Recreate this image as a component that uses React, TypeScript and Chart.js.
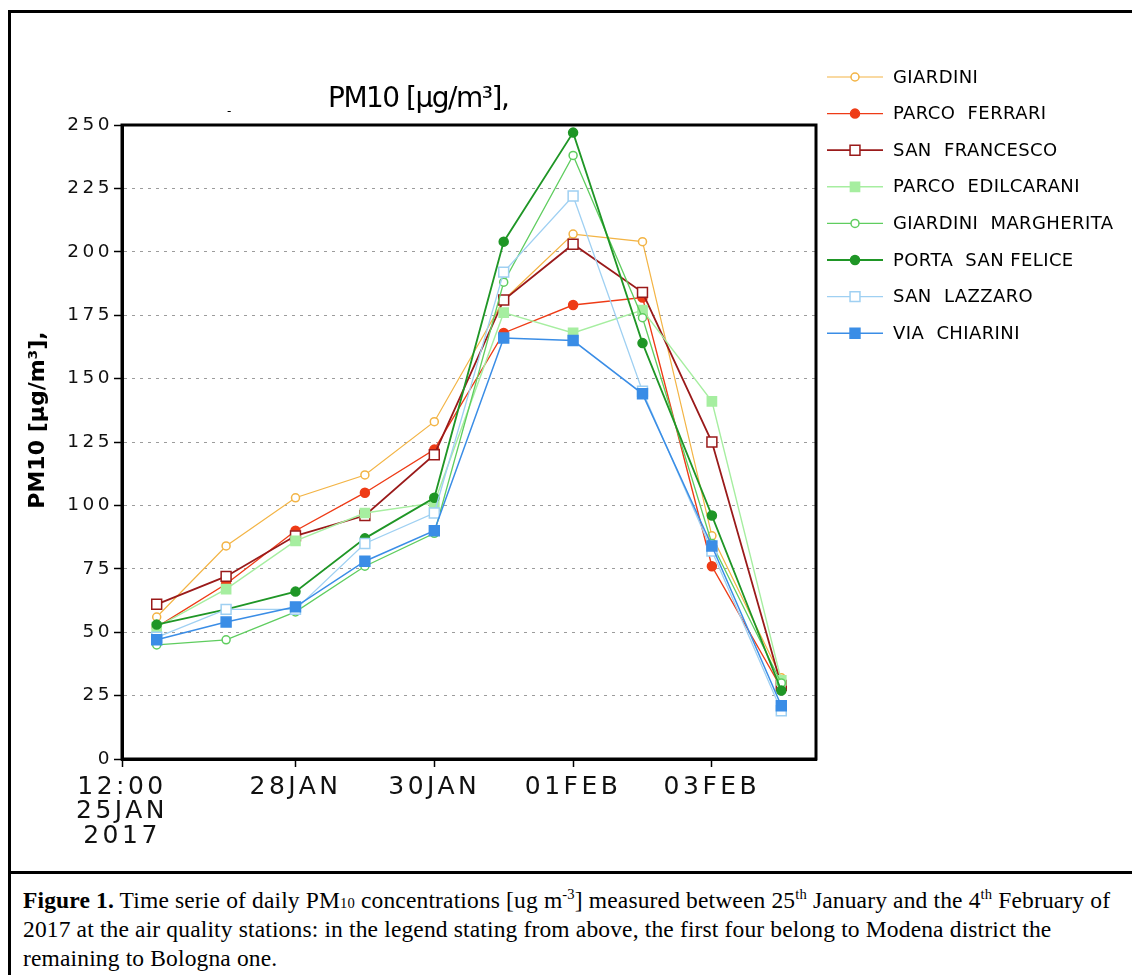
import React, { useEffect, useRef } from 'react';
import { Chart, registerables } from 'chart.js';

Chart.register(...registerables);

// ---- data ----
const dayIndex = [0, 1, 2, 3, 4, 5, 6, 7, 8, 9]; // 26JAN .. 04FEB
const xTickValues = [-0.5, 2, 4, 6, 8];
const xTickLabels: (string | string[])[] = [['12:00', '25JAN', '2017'], '28JAN', '30JAN', '01FEB', '03FEB'];
const yTickValues = [0, 25, 50, 75, 100, 125, 150, 175, 200, 225, 250];

const stationNames = [
  'GIARDINI',
  'PARCO FERRARI',
  'SAN FRANCESCO',
  'PARCO EDILCARANI',
  'GIARDINI MARGHERITA',
  'PORTA SAN FELICE',
  'SAN LAZZARO',
  'VIA CHIARINI',
];

const giardini = [56, 84, 103, 112, 133, 181, 207, 204, 88, 32];
const parcoFerrari = [52, 69, 90, 105, 122, 168, 179, 182, 76, 28];
const sanFrancesco = [61, 72, 88, 96, 120, 181, 203, 184, 125, 29];
const parcoEdilcarani = [52, 67, 86, 97, 101, 176, 168, 177, 141, 31];
const giardiniMargherita = [45, 47, 58, 76, 89, 188, 238, 174, 85, 30];
const portaSanFelice = [53, 59, 66, 87, 103, 204, 247, 164, 96, 27];
const sanLazzaro = [48, 59, 59, 85, 97, 192, 222, 145, 82, 19];
const viaChiarini = [47, 54, 60, 78, 90, 166, 165, 144, 84, 21];

const seriesValues = [
  giardini,
  parcoFerrari,
  sanFrancesco,
  parcoEdilcarani,
  giardiniMargherita,
  portaSanFelice,
  sanLazzaro,
  viaChiarini,
];

const TITLE = 'PM10 [\u03BCg/m\u00B3],';

// ---- styles ----
const seriesStyles = [
  { color: '#f3b445', style: 'circle', filled: false, r: 4, lw: 1.2 },
  { color: '#ee3b16', style: 'circle', filled: true, r: 4.5, lw: 1.4 },
  { color: '#9a1a1a', style: 'rect', filled: false, r: 7, lw: 1.8 },
  { color: '#a6eea0', style: 'rect', filled: true, r: 6.5, lw: 1.4 },
  { color: '#5fcd5f', style: 'circle', filled: false, r: 4, lw: 1.3 },
  { color: '#1f9626', style: 'circle', filled: true, r: 4.5, lw: 1.8 },
  { color: '#9fd0f2', style: 'rect', filled: false, r: 7, lw: 1.3 },
  { color: '#3a8de6', style: 'rect', filled: true, r: 7, lw: 1.5 },
];

function drawMarker(ctx: CanvasRenderingContext2D, style: string, x: number, y: number, r: number, color: string, filled: boolean) {
  ctx.save();
  ctx.lineWidth = 1.5;
  ctx.strokeStyle = color;
  ctx.fillStyle = filled ? color : '#fff';
  ctx.beginPath();
  if (style === 'circle') {
    ctx.arc(x, y, r, 0, Math.PI * 2);
  } else {
    const s = r * Math.SQRT1_2;
    ctx.rect(x - s, y - s, 2 * s, 2 * s);
  }
  ctx.fill();
  ctx.stroke();
  ctx.restore();
}

const decorPlugin = {
  id: 'decor',
  beforeDraw(chart: any) {
    (chart.ctx as any).letterSpacing = '3.5px';
  },
  afterDraw(chart: any) {
    const ctx: CanvasRenderingContext2D = chart.ctx;
    const a = chart.chartArea;
    ctx.save();
    (ctx as any).letterSpacing = '0px';
    // plot frame
    ctx.strokeStyle = '#000';
    ctx.lineWidth = 3;
    ctx.strokeRect(a.left, a.top, a.right - a.left, a.bottom - a.top);

    // title
    ctx.fillStyle = '#000';
    ctx.textAlign = 'left';
    ctx.textBaseline = 'alphabetic';
    ctx.font = '28px "DejaVu Sans"';
    (ctx as any).letterSpacing = '-1.5px';
    ctx.fillText(TITLE, a.left + 206, a.top - 18);
    (ctx as any).letterSpacing = '0px';
    ctx.font = '12px "DejaVu Sans"';
    ctx.fillText('-', a.left + 105, a.top - 10);

    // y axis title
    ctx.save();
    ctx.translate(27, (a.top + a.bottom) / 2 - 22);
    ctx.rotate(-Math.PI / 2);
    ctx.textAlign = 'center';
    ctx.textBaseline = 'middle';
    ctx.font = 'bold 22px "DejaVu Sans"';
    ctx.fillText(TITLE, 0, 0);
    ctx.restore();

    // legend
    const lx0 = a.right + 11;
    const lx1 = a.right + 67;
    const mx = a.right + 39;
    const tx = a.right + 77;
    ctx.font = '18px "DejaVu Sans"';
    (ctx as any).letterSpacing = '0.4px';
    ctx.textAlign = 'left';
    ctx.textBaseline = 'middle';
    chart.data.datasets.forEach((ds: any, i: number) => {
      const st = seriesStyles[i];
      const y = 64 + i * 36.6;
      ctx.strokeStyle = st.color;
      ctx.lineWidth = st.lw;
      ctx.beginPath();
      ctx.moveTo(lx0, y);
      ctx.lineTo(lx1, y);
      ctx.stroke();
      drawMarker(ctx, st.style, mx, y, st.r, st.color, st.filled);
      ctx.fillStyle = '#000';
      ctx.fillText(ds.label.replace(' ', '  '), tx, y + 1);
    });
    ctx.restore();
  },
};

export default function App() {
  const ref = useRef<HTMLCanvasElement>(null);

  useEffect(() => {
    const datasets = stationNames.map((name, i) => {
      const st = seriesStyles[i];
      return {
        label: name,
        data: dayIndex.map((d, k) => ({ x: d, y: seriesValues[i][k] })),
        borderColor: st.color,
        backgroundColor: st.color,
        borderWidth: st.lw,
        pointStyle: st.style,
        pointRadius: st.r,
        pointHoverRadius: st.r,
        pointBorderWidth: 1.5,
        pointBackgroundColor: st.filled ? st.color : '#ffffff',
        pointBorderColor: st.color,
        tension: 0,
        fill: false,
        order: stationNames.length - i,
      };
    });

    const chart = new Chart(ref.current as HTMLCanvasElement, {
      type: 'line',
      data: { datasets },
      options: {
        responsive: false,
        animation: false,
        events: [],
        layout: { padding: { left: 0, top: 112, right: 316, bottom: 0 } },
        plugins: {
          legend: { display: false },
          tooltip: { enabled: false },
          title: { display: false },
        },
        scales: {
          x: {
            type: 'linear',
            min: -0.5,
            max: 9.5,
            afterBuildTicks: (s: any) => {
              s.ticks = xTickValues.map((v) => ({ value: v }));
            },
            afterFit: (s: any) => {
              s.height = 112;
            },
            ticks: {
              autoSkip: false,
              maxRotation: 0,
              minRotation: 0,
              color: '#111',
              padding: 8,
              font: { family: 'DejaVu Sans', size: 25, lineHeight: 0.98 },
              callback: (v: any) => {
                const k = xTickValues.indexOf(Number(v));
                return k >= 0 ? xTickLabels[k] : '';
              },
            },
            grid: {
              drawOnChartArea: false,
              drawTicks: true,
              tickLength: 8,
              tickColor: '#000',
              tickWidth: 1.5,
              color: '#000',
            },
            border: { display: true, color: '#000', width: 3 },
          },
          y: {
            min: 0,
            max: 250,
            afterBuildTicks: (s: any) => {
              s.ticks = yTickValues.map((v) => ({ value: v }));
            },
            afterFit: (s: any) => {
              s.width = 111;
            },
            ticks: {
              autoSkip: false,
              color: '#111',
              padding: 1,
              font: { family: 'DejaVu Sans', size: 18.5 },
            },
            grid: {
              color: '#9c9c9c',
              lineWidth: 1,
              tickLength: 8,
              tickColor: '#000',
              tickWidth: 1.5,
            },
            border: { display: true, color: '#000', width: 3, dash: [3, 5] },
          },
        },
      },
      plugins: [decorPlugin],
    } as any);
    return () => chart.destroy();
  }, []);

  const sup: React.CSSProperties = { fontSize: '0.62em', verticalAlign: 'super', lineHeight: 0 };
  const sub: React.CSSProperties = { fontSize: '0.62em', verticalAlign: 'baseline', lineHeight: 0 };

  return (
    <div
      style={{
        position: 'fixed',
        left: 8,
        top: 10,
        width: 1124,
        height: 965,
        boxSizing: 'border-box',
        borderTop: '3px solid #000',
        borderLeft: '3px solid #000',
        background: '#fff',
        overflow: 'hidden',
      }}
    >
      <canvas ref={ref} width={1121} height={858} style={{ display: 'block', width: 1121, height: 858 }} />
      <div
        style={{
          borderTop: '3px solid #000',
          padding: '12px 0 0 12px',
          fontFamily: '"Liberation Serif", "Times New Roman", serif',
          fontSize: 23.5,
          letterSpacing: '0.15px',
          lineHeight: '29px',
          whiteSpace: 'nowrap',
          color: '#000',
        }}
      >
        <b>Figure 1.</b> Time serie of daily PM<span style={sub}>10</span> concentrations [ug m
        <span style={sup}>-3</span>] measured between 25<span style={sup}>th</span> January and the 4
        <span style={sup}>th</span> February of
        <br />
        2017 at the air quality stations: in the legend stating from above, the first four belong to Modena district the
        <br />
        remaining to Bologna one.
      </div>
    </div>
  );
}
